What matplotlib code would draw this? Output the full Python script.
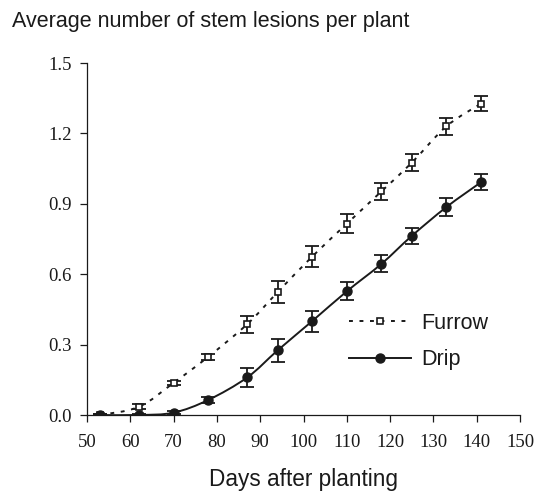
import numpy as np
import matplotlib
matplotlib.use("Agg")
import matplotlib.pyplot as plt
from matplotlib.path import Path
from matplotlib.patches import PathPatch
from matplotlib.lines import Line2D

days = [53, 62, 70, 78, 87, 94, 102, 110, 118, 125, 133, 141]
furrow = [0.0, 0.035, 0.137, 0.248, 0.387, 0.523, 0.675, 0.815, 0.953, 1.075, 1.230, 1.327]
furrow_err = [0.004, 0.010, 0.010, 0.012, 0.037, 0.046, 0.045, 0.040, 0.037, 0.037, 0.035, 0.033]
drip = [0.0, 0.0, 0.010, 0.064, 0.160, 0.275, 0.400, 0.527, 0.644, 0.763, 0.886, 0.992]
drip_err = [0.004, 0.004, 0.006, 0.013, 0.040, 0.048, 0.045, 0.039, 0.036, 0.035, 0.038, 0.034]

xticks = [50, 60, 70, 80, 90, 100, 110, 120, 130, 140, 150]
yticks = [0.0, 0.3, 0.6, 0.9, 1.2, 1.5]

W, H = 538, 495
fig = plt.figure(figsize=(W / 100, H / 100), dpi=100)
ax = fig.add_axes([87 / W, 1 - 415 / H, (520 - 87) / W, (415 - 63) / H])


def smooth_path(x, y):
    p = np.column_stack([x, y]).astype(float)
    n = len(p)
    verts = [p[0]]
    codes = [Path.MOVETO]
    for i in range(n - 1):
        p0 = p[i - 1] if i > 0 else p[i]
        p3 = p[i + 2] if i + 2 < n else p[i + 1]
        c1 = p[i] + (p[i + 1] - p0) / 6.0
        c2 = p[i + 1] - (p3 - p[i]) / 6.0
        verts += [c1, c2, p[i + 1]]
        codes += [Path.CURVE4] * 3
    return Path(verts, codes)


ink = "#1a1a1a"
lw = 1.4
dash = (0, (2.0, 3.4))

ax.add_patch(PathPatch(smooth_path(days, furrow), fill=False, edgecolor=ink,
                       lw=lw, linestyle=dash, zorder=2))
ax.add_patch(PathPatch(smooth_path(days, drip), fill=False, edgecolor=ink,
                       lw=lw, zorder=2))

ax.errorbar(days, furrow, yerr=furrow_err, fmt="none", ecolor=ink,
            elinewidth=1.3, capsize=5, capthick=1.3, zorder=3)
ax.errorbar(days, drip, yerr=drip_err, fmt="none", ecolor=ink,
            elinewidth=1.3, capsize=5, capthick=1.3, zorder=3)
ax.plot(days, furrow, linestyle="none", marker="s", ms=5, mfc="white",
        mec=ink, mew=1.2, zorder=4)
ax.plot(days, drip, linestyle="none", marker="o", ms=6.5, mfc=ink,
        mec=ink, zorder=4)

ax.set_xlim(50, 150)
ax.set_ylim(0, 1.5)
ax.set_xticks(xticks)
ax.set_yticks(yticks)
ax.set_xticklabels([str(t) for t in xticks])
ax.set_yticklabels([f"{t:.1f}" for t in yticks])
for s in ["top", "right"]:
    ax.spines[s].set_visible(False)
for s in ["left", "bottom"]:
    ax.spines[s].set_linewidth(0.9)
    ax.spines[s].set_color(ink)
ax.tick_params(axis="both", direction="out", length=5, width=0.9, color=ink,
               labelsize=13.5, labelcolor=ink)
ax.tick_params(axis="x", pad=9)
ax.tick_params(axis="y", pad=6)
for lab in ax.get_xticklabels() + ax.get_yticklabels():
    lab.set_family("Liberation Serif")

handles = [
    Line2D([], [], color=ink, lw=lw, linestyle=dash, marker="s", ms=5,
           mfc="white", mec=ink, mew=1.2),
    Line2D([], [], color=ink, lw=lw, marker="o", ms=6.5, mfc=ink),
]
leg = ax.legend(handles, ["Furrow", "Drip"], loc="upper left",
                bbox_to_anchor=((349 - 87) / (520 - 87), (415 - 313) / (415 - 63)),
                frameon=False, handlelength=2.9, handletextpad=0.45,
                labelspacing=0.7, borderaxespad=0, borderpad=0,
                prop={"family": "Liberation Sans", "size": 15.5})
for t in leg.get_texts():
    t.set_color(ink)

fig.text(12 / W, 1 - 27 / H, "Average number of stem lesions per plant",
         family="Liberation Sans", fontsize=15.5, color=ink, va="baseline", ha="left")
fig.text(303.5 / W, 1 - 486 / H, "Days after planting",
         family="Liberation Sans", fontsize=16.3, color=ink, va="baseline", ha="center")

fig.savefig("out.png", dpi=100)
